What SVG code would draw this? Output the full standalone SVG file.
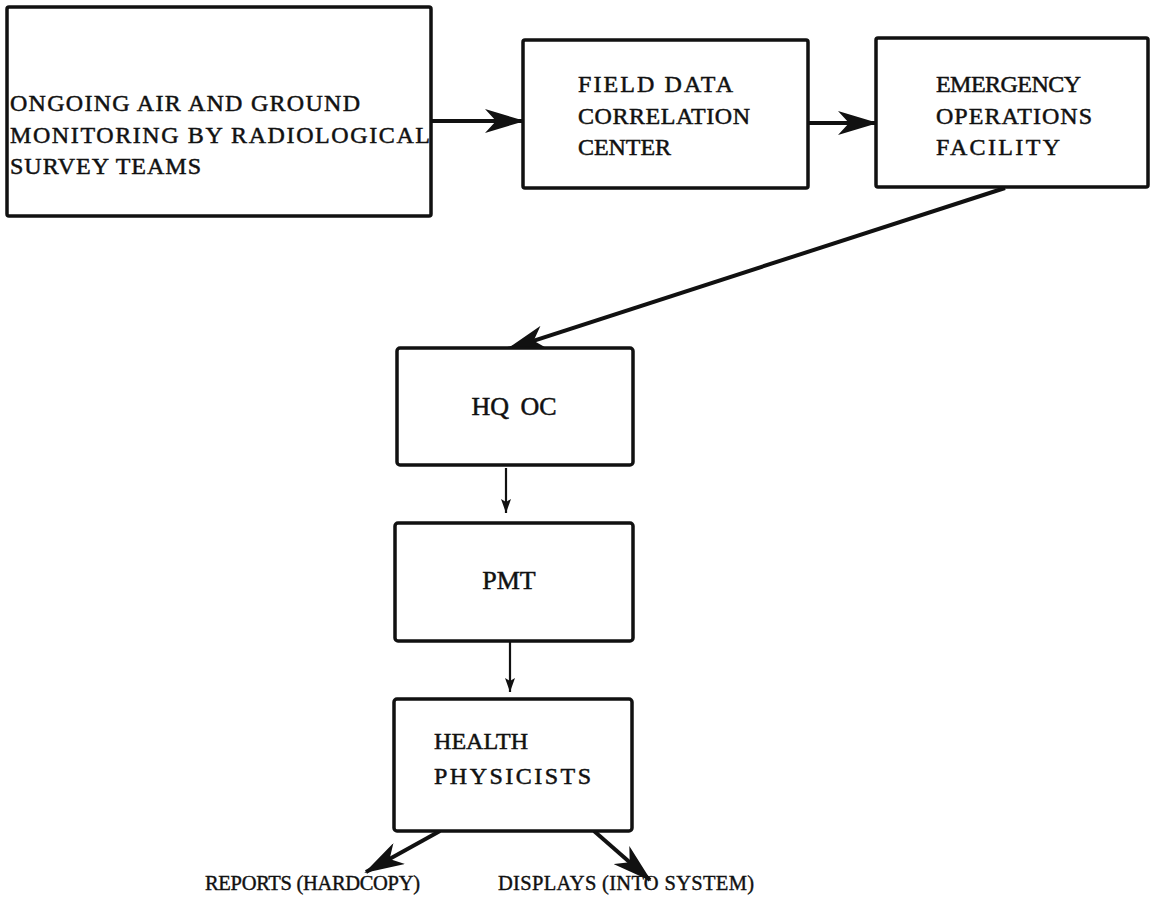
<svg xmlns="http://www.w3.org/2000/svg" width="1151" height="908" viewBox="0 0 1151 908">
<defs>
<style>
.box{fill:#fff;stroke:#111;stroke-width:3.5;stroke-linejoin:round}
.tw{font-family:"Liberation Serif","DejaVu Serif",serif;font-size:24px;fill:#111;stroke:#111;stroke-width:0.5}
.ser{font-family:"Liberation Serif","DejaVu Serif",serif;font-size:26px;fill:#111;stroke:#111;stroke-width:0.5}
.lbl{font-family:"Liberation Serif","DejaVu Serif",serif;font-size:20.5px;fill:#111;stroke:#111;stroke-width:0.4}
.thick{stroke:#111;stroke-width:4;fill:none}
.thin{stroke:#111;stroke-width:2.2;fill:none}
</style>
<marker id="big" markerUnits="userSpaceOnUse" viewBox="0 0 40 24" refX="38" refY="12" markerWidth="40" markerHeight="24" orient="auto">
<path d="M0,0 L40,12 L0,24 L11,12 z" fill="#111"/>
</marker>
<marker id="small" markerUnits="userSpaceOnUse" viewBox="0 0 14 10" refX="14" refY="5" markerWidth="14" markerHeight="10" orient="auto">
<path d="M0,0 L14,5 L0,10 L3,5 z" fill="#111"/>
</marker>
</defs>
<rect width="1151" height="908" fill="#fff"/>
<g id="connectors">
<line class="thick" x1="431" y1="121" x2="523" y2="121" marker-end="url(#big)"/>
<line class="thick" x1="808" y1="123" x2="876" y2="123" marker-end="url(#big)"/>
<line class="thick" x1="1005" y1="188" x2="508" y2="349" marker-end="url(#big)"/>
<line class="thin" x1="506" y1="468" x2="506" y2="513" marker-end="url(#small)"/>
<line class="thin" x1="510" y1="642" x2="510" y2="692" marker-end="url(#small)"/>
<line class="thick" x1="440" y1="831" x2="366" y2="872" marker-end="url(#big)"/>
<line class="thick" x1="594" y1="831" x2="650" y2="880" marker-end="url(#big)"/>
</g>
<g id="monitoring">
<rect class="box" x="7" y="7" width="424" height="209" rx="2"/>
<text class="tw" x="10" y="111" textLength="350" lengthAdjust="spacing">ONGOING AIR AND GROUND</text>
<text class="tw" x="10" y="143" textLength="420" lengthAdjust="spacing">MONITORING BY RADIOLOGICAL</text>
<text class="tw" x="10" y="174" textLength="191" lengthAdjust="spacing">SURVEY TEAMS</text>
</g>
<g id="fdcc">
<rect class="box" x="523" y="40" width="285" height="148" rx="2"/>
<text class="tw" x="578" y="92" textLength="155" lengthAdjust="spacing">FIELD DATA</text>
<text class="tw" x="578" y="124" textLength="172" lengthAdjust="spacing">CORRELATION</text>
<text class="tw" x="578" y="155" textLength="93" lengthAdjust="spacing">CENTER</text>
</g>
<g id="eof">
<rect class="box" x="876" y="38" width="272" height="149" rx="2"/>
<text class="tw" x="936" y="92" textLength="145" lengthAdjust="spacing">EMERGENCY</text>
<text class="tw" x="936" y="124" textLength="156" lengthAdjust="spacing">OPERATIONS</text>
<text class="tw" x="936" y="155" textLength="124" lengthAdjust="spacing">FACILITY</text>
</g>
<g id="hqoc">
<rect class="box" x="397" y="348" width="236" height="117" rx="3"/>
<text class="ser" x="514" y="415" text-anchor="middle" word-spacing="5">HQ OC</text>
</g>
<g id="pmt">
<rect class="box" x="395" y="523" width="238" height="118" rx="3"/>
<text class="ser" x="509" y="589" text-anchor="middle">PMT</text>
</g>
<g id="hp">
<rect class="box" x="394" y="699" width="238" height="132" rx="3"/>
<text class="tw" x="434" y="749" textLength="94" lengthAdjust="spacing">HEALTH</text>
<text class="tw" x="434" y="784" textLength="157" lengthAdjust="spacing">PHYSICISTS</text>
</g>
<g id="labels">
<text class="lbl" x="205" y="890" textLength="215" lengthAdjust="spacing">REPORTS (HARDCOPY)</text>
<text class="lbl" x="498" y="890" textLength="256" lengthAdjust="spacing">DISPLAYS (INTO SYSTEM)</text>
</g>
</svg>
